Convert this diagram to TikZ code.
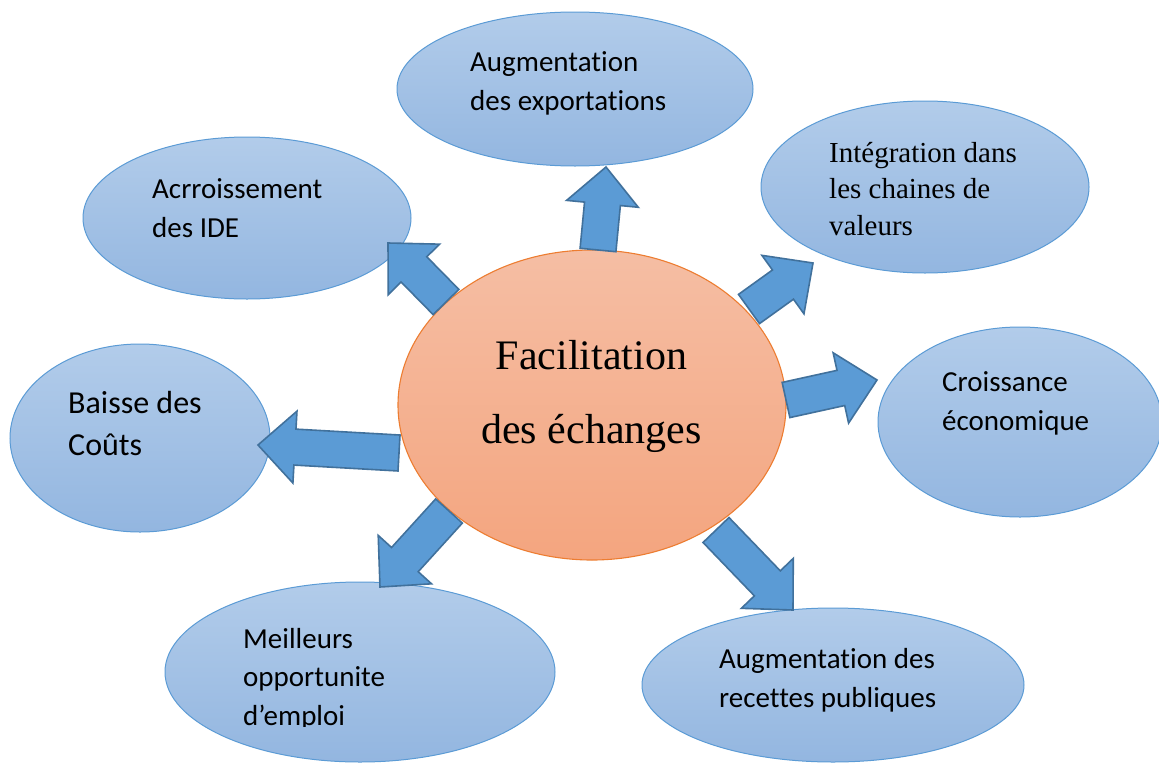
\documentclass[tikz,border=0pt]{standalone}
\usepackage{fontspec}
\setmainfont{Liberation Serif}
\newfontfamily\calib[Ligatures={NoCommon}]{Carlito}
\usetikzlibrary{shapes.geometric,calc}
\definecolor{bluetop}{HTML}{B2CCEA}
\definecolor{bluebot}{HTML}{93B6E0}
\definecolor{blueline}{HTML}{5B9BD5}
\definecolor{arrowfill}{HTML}{5B9BD5}
\definecolor{arrowline}{HTML}{41719C}
\definecolor{orangetop}{HTML}{F5BEA4}
\definecolor{orangebot}{HTML}{F4A57F}
\definecolor{orangeline}{HTML}{ED7D31}
\tikzset{
  blueell/.style={ellipse, inner sep=0pt, draw=blueline, line width=1pt, top color=bluetop, bottom color=bluebot},
  centerell/.style={ellipse, inner sep=0pt, draw=orangeline, line width=1.1pt, top color=orangetop, bottom color=orangebot},
  cal/.style={anchor=base west, align=left, inner sep=0pt, font=\calib\fontsize{29}{38.5}\selectfont},
  tms/.style={anchor=base west, align=left, inner sep=0pt, font=\fontsize{29}{36.5}\selectfont},
  barrow/.style={fill=arrowfill, draw=arrowline, line width=1.6pt, line join=miter}
}
\newcommand\blockarrow[2]{%
  \coordinate (hb) at ($(#2)!37pt!(#1)$);
  \draw[barrow] ($(#1)!18pt!90:(#2)$) -- ($(hb)!18pt!90:(#2)$) -- ($(hb)!36pt!90:(#2)$) -- (#2)
    -- ($(hb)!36pt!-90:(#2)$) -- ($(hb)!18pt!-90:(#2)$) -- ($(#1)!18pt!-90:(#2)$) -- cycle;}
\begin{document}
\begin{tikzpicture}[x=1pt,y=-1pt]
\clip (0,0) rectangle (1159,763);
\fill[white] (0,0) rectangle (1159,763);
% outer ellipses
\node[blueell, minimum width=356pt, minimum height=154pt] (exp) at (575,89) {};
\node[blueell, minimum width=328pt, minimum height=172pt] (int) at (925,187) {};
\node[blueell, minimum width=284pt, minimum height=190pt] (cro) at (1020,422) {};
\node[blueell, minimum width=382pt, minimum height=154pt] (rec) at (833,685) {};
\node[blueell, minimum width=390pt, minimum height=180pt] (mei) at (360,672) {};
\node[blueell, minimum width=260pt, minimum height=188pt] (bai) at (140,438) {};
\node[blueell, minimum width=328pt, minimum height=162pt] (ide) at (247,218) {};
% centre
\node[centerell, minimum width=388pt, minimum height=310pt] (fac) at (592,405) {};
% texts (anchor = baseline of last line)
\node[cal] (expT) at (470,110) {Augmentation\\des exportations};
\node[tms] (intT) at (829,235) {Intégration dans\\les chaines de\\valeurs};
\node[cal] (croT) at (942,430) {Croissance\\économique};
\node[cal] (recT) at (719,707) {Augmentation des\\recettes publiques};
\begin{scope}
  \clip (230,600) rectangle (420,726.5);
  \node[cal] (meiT) at (243,725) {Meilleurs\\opportunite\\d’emploi};
\end{scope}
\node[cal, font=\calib\fontsize{32}{42}\selectfont] (baiT) at (68,455) {Baisse des\\Coûts};
\node[cal] (ideT) at (152,237) {Acrroissement\\des IDE};
\node[anchor=base, align=center, inner sep=0pt, font=\fontsize{42}{74}\selectfont] (facT) at (591.5,443) {Facilitation\\des échanges};
% arrow end points
\coordinate (t1) at (598,250); \coordinate (h1) at (606,167);
\coordinate (t2) at (446,302); \coordinate (h2) at (388,243);
\coordinate (t3) at (749,309); \coordinate (h3) at (813,263);
\coordinate (t4) at (786,400); \coordinate (h4) at (877,380);
\coordinate (t5) at (399,453); \coordinate (h5) at (258,445);
\coordinate (t6) at (449,511); \coordinate (h6) at (380,587);
\coordinate (t7) at (716,530); \coordinate (h7) at (793,610);
\blockarrow{t1}{h1}
\blockarrow{t2}{h2}
\blockarrow{t3}{h3}
\blockarrow{t4}{h4}
\blockarrow{t5}{h5}
\blockarrow{t6}{h6}
\blockarrow{t7}{h7}
\end{tikzpicture}
\end{document}
